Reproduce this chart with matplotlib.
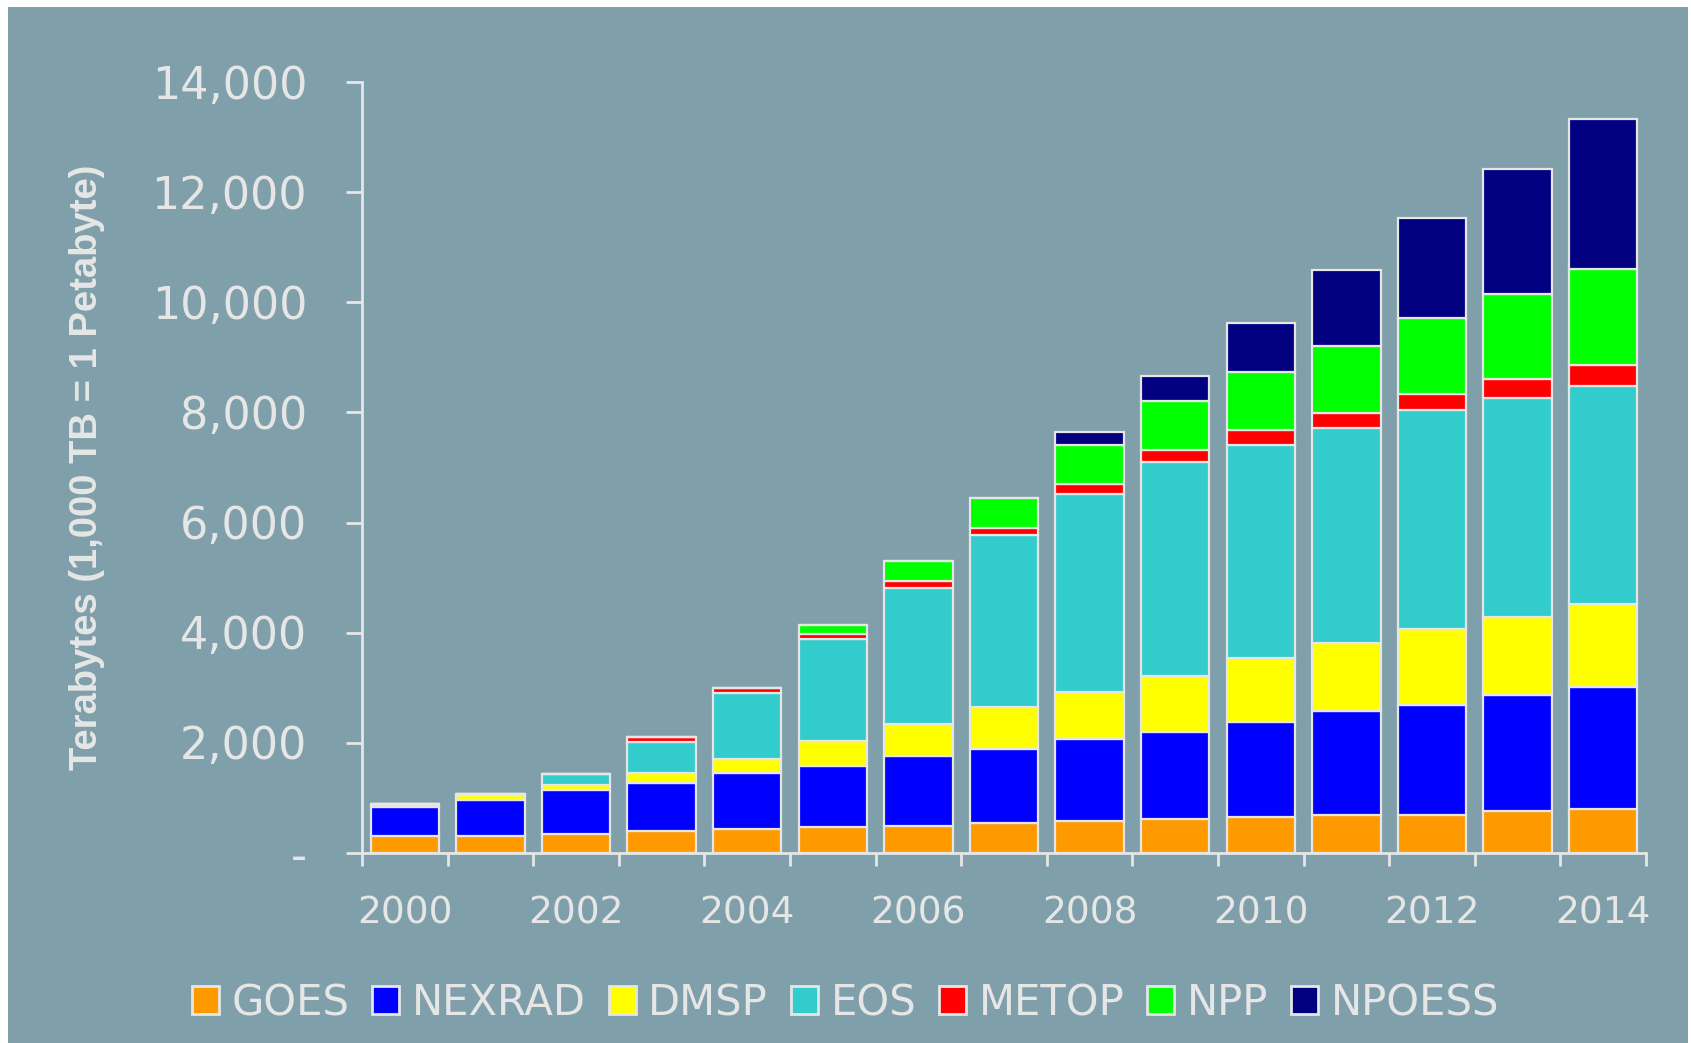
import numpy as np
import matplotlib
matplotlib.use("Agg")
import matplotlib.pyplot as plt
from matplotlib.patches import Patch, Rectangle

years = list(range(2000, 2015))
goes = [305, 305, 340, 390, 430, 470, 476, 530, 570, 615, 645, 690, 690, 750, 790]
nexrad = [530, 650, 795, 880, 1015, 1110, 1280, 1360, 1500, 1580, 1720, 1875, 2000, 2110, 2220]
dmsp = [40, 85, 97, 170, 260, 450, 580, 750, 840, 1020, 1170, 1240, 1375, 1430, 1510]
eos = [0, 20, 190, 575, 1200, 1850, 2470, 3130, 3610, 3890, 3870, 3920, 3975, 3975, 3955]
metop = [0, 0, 0, 90, 90, 90, 130, 135, 180, 210, 270, 260, 295, 340, 390]
npp = [0, 0, 0, 0, 0, 175, 360, 540, 710, 890, 1070, 1230, 1375, 1555, 1735]
npoess = [0, 0, 0, 0, 0, 0, 0, 0, 230, 450, 875, 1380, 1820, 2260, 2740]

names = ["GOES", "NEXRAD", "DMSP", "EOS", "METOP", "NPP", "NPOESS"]
colors = ["#FF9900", "#0000FF", "#FFFF00", "#33CCCC", "#FF0000", "#00FF00", "#000080"]
series = [goes, nexrad, dmsp, eos, metop, npp, npoess]

bg = "#7FA0AA"
fg = "#E6E6E6"

fig = plt.figure(figsize=(16.91, 10.43), dpi=100, facecolor="white")
# grey panel, leaves a thin white margin at top and left like the original
fig.patches.append(Rectangle((8 / 1691, 0), (1688 - 8) / 1691, 1 - 7 / 1043,
                             transform=fig.transFigure, facecolor=bg,
                             edgecolor="none", zorder=-10))

ax = fig.add_axes([362 / 1691, 1 - 852.5 / 1043, (1646 - 362) / 1691, (852.5 - 82.5) / 1043])
ax.set_facecolor("none")

x = np.arange(len(years))
bottom = np.zeros(len(years))
for vals, c in zip(series, colors):
    vals = np.array(vals, dtype=float)
    ax.bar(x, vals, width=0.8, bottom=bottom, color=c, edgecolor=fg,
           linewidth=1.6, zorder=3)
    bottom += vals

ax.set_xlim(-0.5, len(years) - 0.5)
ax.set_ylim(0, 14000)

ax.set_yticks(np.arange(0, 14001, 2000))
ax.set_yticklabels(["-"] + [f"{v:,}" for v in range(2000, 14001, 2000)])
# ticks sit between the bars, year labels every other bar
ax.set_xticks(np.arange(-0.5, len(years), 1.0))
ax.set_xticklabels([])
for i, yr in enumerate(years):
    if yr % 2 == 0:
        ax.text(i, -1100, str(yr), ha="center", va="center", fontsize=27,
                color=fg, clip_on=False)

for s in ["top", "right"]:
    ax.spines[s].set_visible(False)
for s in ["left", "bottom"]:
    ax.spines[s].set_color(fg)
    ax.spines[s].set_linewidth(2)

ax.tick_params(axis="y", direction="out", length=11.5, width=2, color=fg,
               labelcolor=fg, labelsize=32, pad=28)
ax.tick_params(axis="x", direction="out", length=9, width=2, color=fg)

ax.set_ylabel("Terabytes (1,000 TB = 1 Petabyte)", fontsize=27.5, fontweight="bold",
              color=fg, family="Liberation Sans")
ax.yaxis.set_label_coords(-0.2, 0.5)

handles = [Patch(facecolor=c, edgecolor=fg, linewidth=2) for c in colors]
fig.legend(handles, names, loc="center", bbox_to_anchor=(0.5, 1 - 1003 / 1043),
           ncol=7, frameon=False, fontsize=30, handlelength=0.65, handleheight=0.65,
           handletextpad=0.3, columnspacing=0.55, labelcolor=fg)

fig.savefig("out.png", dpi=100, facecolor="white")
